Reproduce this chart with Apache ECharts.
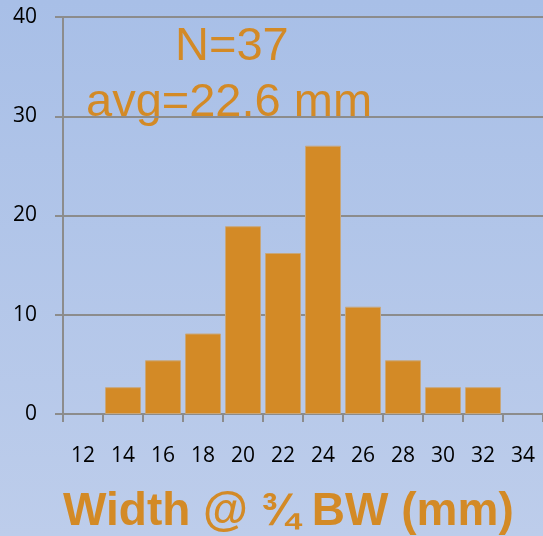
<!DOCTYPE html>
<html><head><meta charset="utf-8">
<script src="https://cdn.jsdelivr.net/npm/echarts@6/dist/echarts.min.js"></script>
<style>html,body{margin:0;padding:0;}#c{width:543px;height:536px;}</style>
</head><body><div id="c"></div>
<script>
const categories = ['12','14','16','18','20','22','24','26','28','30','32','34'];
const percentValues = [null, 2.70, 5.41, 8.11, 18.92, 16.22, 27.03, 10.81, 5.41, 2.70, 2.70, null];
const yTicks = [0, 10, 20, 30, 40];
const noteLines = ['N=37', 'avg=22.6 mm'];
const axisTitle = 'Width @ ¾ BW (mm)';

const orange = '#d38a26';
const chart = echarts.init(document.getElementById('c'));
chart.setOption({
  animation: false,
  backgroundColor: new echarts.graphic.LinearGradient(0, 0, 0, 1, [
    {offset: 0, color: '#a8bfe7'}, {offset: 1, color: '#bdcdeb'}
  ]),
  grid: {left: 63, right: 0, top: 17, bottom: 122},
  xAxis: {
    type: 'category', data: categories,
    axisLine: {lineStyle: {color: '#8c8c8c', width: 2}},
    axisTick: {show: true, length: 8, alignWithLabel: false, lineStyle: {color: '#8c8c8c', width: 2}},
    axisLabel: {color: '#000', fontSize: 21, fontFamily: 'Open Sans', margin: 32, interval: 0}
  },
  yAxis: {
    type: 'value', min: yTicks[0], max: yTicks[yTicks.length - 1], interval: 10,
    axisLine: {show: true, lineStyle: {color: '#8c8c8c', width: 2}},
    axisTick: {show: true, length: 8, lineStyle: {color: '#8c8c8c', width: 2}},
    splitLine: {lineStyle: {color: '#8c8c8c', width: 2}},
    axisLabel: {color: '#000', fontSize: 21, fontFamily: 'Open Sans', margin: 26}
  },
  series: [{
    type: 'bar', data: percentValues, barCategoryGap: '10%',
    itemStyle: {color: orange, borderColor: '#c9a77a', borderWidth: 1}
  }],
  graphic: [
    {type: 'text', x: 175, y: 24, style: {text: noteLines[0], fill: orange, font: '47px "Liberation Sans", Arial'}},
    {type: 'text', x: 86, y: 80, style: {text: noteLines[1], fill: orange, font: '47px "Liberation Sans", Arial'}},
    {type: 'text', x: 63, y: 489, style: {text: axisTitle, fill: orange, font: 'bold 46px "Liberation Sans", Arial'}}
  ]
});
</script></body></html>
